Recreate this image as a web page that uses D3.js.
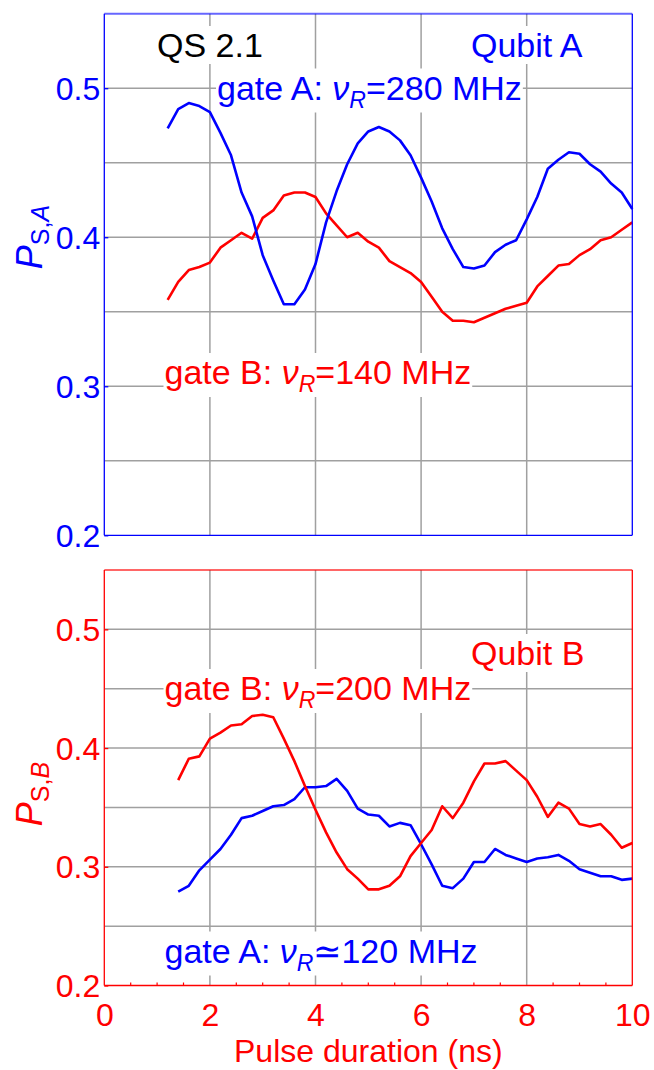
<!DOCTYPE html>
<html>
<head>
<meta charset="utf-8">
<script src="https://cdn.jsdelivr.net/npm/d3@7"></script>
<style>
  html, body { margin: 0; padding: 0; background: #fff; }
  svg { display: block; font-family: "Liberation Sans", Arial, sans-serif; }
</style>
</head>
<body>
<svg id="chart" width="654" height="1070"></svg>
<script>
// Pulse durations (ns)
const timesA = [1.2, 1.4, 1.6, 1.8, 2.0, 2.2, 2.4, 2.6, 2.8, 3.0, 3.2, 3.4, 3.6, 3.8, 4.0,
  4.2, 4.4, 4.6, 4.8, 5.0, 5.2, 5.4, 5.6, 5.8, 6.0, 6.2, 6.4, 6.6, 6.8, 7.0,
  7.2, 7.4, 7.6, 7.8, 8.0, 8.2, 8.4, 8.6, 8.8, 9.0, 9.2, 9.4, 9.6, 9.8, 10.0];
const timesB = [1.4, 1.6, 1.8, 2.0, 2.2, 2.4, 2.6, 2.8, 3.0, 3.2, 3.4, 3.6, 3.8, 4.0,
  4.2, 4.4, 4.6, 4.8, 5.0, 5.2, 5.4, 5.6, 5.8, 6.0, 6.2, 6.4, 6.6, 6.8, 7.0,
  7.2, 7.4, 7.6, 7.8, 8.0, 8.2, 8.4, 8.6, 8.8, 9.0, 9.2, 9.4, 9.6, 9.8, 10.0];

// Qubit A switching probability, gate A pulse (nu_R = 280 MHz)
const qubitA_gateA = [0.473, 0.486, 0.490, 0.488, 0.484, 0.470, 0.455, 0.430, 0.414, 0.388,
  0.371, 0.355, 0.355, 0.365, 0.382, 0.410, 0.431, 0.449, 0.463, 0.471,
  0.474, 0.471, 0.465, 0.455, 0.440, 0.424, 0.406, 0.392, 0.380, 0.379,
  0.381, 0.390, 0.395, 0.398, 0.412, 0.427, 0.446, 0.452, 0.457, 0.456,
  0.449, 0.444, 0.436, 0.430, 0.419];
// Qubit A switching probability, gate B pulse (nu_R = 140 MHz)
const qubitA_gateB = [0.358, 0.370, 0.378, 0.380, 0.383, 0.393, 0.398, 0.403, 0.399, 0.413,
  0.418, 0.428, 0.430, 0.430, 0.427, 0.416, 0.408, 0.400, 0.403, 0.397,
  0.393, 0.384, 0.380, 0.376, 0.370, 0.360, 0.350, 0.344, 0.344, 0.343,
  0.346, 0.349, 0.352, 0.354, 0.356, 0.367, 0.374, 0.381, 0.382, 0.388,
  0.392, 0.398, 0.400, 0.405, 0.410];
// Qubit B switching probability, gate B pulse (nu_R = 200 MHz)
const qubitB_gateB = [0.373, 0.391, 0.393, 0.408, 0.413, 0.419, 0.420, 0.427, 0.428, 0.426,
  0.408, 0.389, 0.368, 0.348, 0.329, 0.312, 0.298, 0.290, 0.281, 0.281,
  0.284, 0.292, 0.309, 0.320, 0.331, 0.351, 0.341, 0.354, 0.372, 0.387,
  0.387, 0.389, 0.381, 0.373, 0.359, 0.342, 0.354, 0.349, 0.336, 0.334,
  0.336, 0.327, 0.316, 0.320];
// Qubit B switching probability, gate A pulse (nu_R ~ 120 MHz)
const qubitB_gateA = [0.279, 0.284, 0.297, 0.306, 0.315, 0.327, 0.341, 0.343, 0.347, 0.351,
  0.352, 0.357, 0.367, 0.367, 0.368, 0.374, 0.364, 0.349, 0.344, 0.343,
  0.334, 0.337, 0.335, 0.319, 0.302, 0.284, 0.282, 0.290, 0.304, 0.304,
  0.315, 0.310, 0.307, 0.304, 0.307, 0.308, 0.310, 0.305, 0.298, 0.295,
  0.292, 0.292, 0.289, 0.290];

// Axis ticks
const xTicks = [0, 2, 4, 6, 8, 10];
const xMinorTicks = [0.5, 1, 1.5, 2.5, 3, 3.5, 4.5, 5, 5.5, 6.5, 7, 7.5, 8.5, 9, 9.5];
const yTicks = [0.2, 0.3, 0.4, 0.5];
const yGrid = [0.25, 0.3, 0.35, 0.4, 0.45, 0.5];
const xGrid = [2, 4, 6, 8];

const BLUE = "#0000ff", RED = "#ff0000", GRID = "#a0a0a0";
const FS_TICK = 32, FS_NOTE = 34, SUB = 23;

const svg = d3.select("#chart");
const x = d3.scaleLinear().domain([0, 10]).range([104.3, 632.3]);

const panels = [
  {
    color: BLUE, top: 13.7, bottom: 535.3, ylab: ["S,", "A"], ylabY: 237, xAxis: false,
    series: [
      { t: timesA, v: qubitA_gateB, color: RED },
      { t: timesA, v: qubitA_gateA, color: BLUE }
    ],
    labels: [
      { x: 157, y: 57, color: "#000", parts: [{ s: "QS 2.1" }] },
      { x: 471, y: 57, color: BLUE, parts: [{ s: "Qubit A" }] },
      { x: 217, y: 99.5, color: BLUE, parts: [{ s: "gate A: " }, { s: "ν", it: true }, { s: "R", it: true, sub: true }, { s: "=280 MHz" }] },
      { x: 164.5, y: 384, color: RED, parts: [{ s: "gate B: " }, { s: "ν", it: true }, { s: "R", it: true, sub: true }, { s: "=140 MHz" }] }
    ]
  },
  {
    color: RED, top: 570, bottom: 985.5, ylab: ["S,", "B"], ylabY: 794, xAxis: true,
    series: [
      { t: timesB, v: qubitB_gateA, color: BLUE },
      { t: timesB, v: qubitB_gateB, color: RED }
    ],
    labels: [
      { x: 471, y: 665, color: RED, parts: [{ s: "Qubit B" }] },
      { x: 164.5, y: 700, color: RED, parts: [{ s: "gate B: " }, { s: "ν", it: true }, { s: "R", it: true, sub: true }, { s: "=200 MHz" }] },
      { x: 164.5, y: 962.5, color: BLUE, parts: [{ s: "gate A: " }, { s: "ν", it: true }, { s: "R", it: true, sub: true }, { s: "≃120 MHz" }] }
    ]
  }
];

function richText(g, parts, size, subSize, subShift) {
  let shifted = 0;
  parts.forEach(p => {
    const ts = g.append("tspan").text(p.s);
    if (p.it) ts.attr("font-style", "italic");
    const want = p.sub ? subShift : 0;
    if (want !== shifted) { ts.attr("dy", want - shifted); shifted = want; }
    ts.attr("font-size", p.sub ? subSize : size);
  });
}

panels.forEach(P => {
  const y = d3.scaleLinear().domain([0.2, 0.55]).range([P.bottom, P.top]);
  const g = svg.append("g");

  // grid
  g.append("g").selectAll("line").data(yGrid).join("line")
    .attr("x1", x(0)).attr("x2", x(10))
    .attr("y1", d => y(d)).attr("y2", d => y(d))
    .attr("stroke", GRID).attr("stroke-width", 1.5);
  g.append("g").selectAll("line").data(xGrid).join("line")
    .attr("x1", d => x(d)).attr("x2", d => x(d))
    .attr("y1", P.top).attr("y2", P.bottom)
    .attr("stroke", GRID).attr("stroke-width", 1.5);

  // in-plot labels on white boxes
  P.labels.forEach(L => {
    const lg = g.append("g");
    const bg = lg.append("rect").attr("fill", "#fff");
    const txt = lg.append("text").attr("x", L.x).attr("y", L.y)
      .attr("fill", L.color).attr("font-size", FS_NOTE);
    richText(txt, L.parts, FS_NOTE, SUB, 8);
    const b = txt.node().getBBox();
    bg.attr("x", b.x - 1).attr("y", b.y).attr("width", b.width + 2).attr("height", b.height);
  });

  // data curves
  const line = d3.line().x(d => x(d[0])).y(d => y(d[1]));
  P.series.forEach(S => {
    g.append("path").datum(S.t.map((t, i) => [t, S.v[i]]))
      .attr("d", line).attr("fill", "none")
      .attr("stroke", S.color).attr("stroke-width", 2.6)
      .attr("stroke-linejoin", "round");
  });

  // frame
  const fr = g.append("g").attr("stroke", P.color).attr("stroke-width", 1.3).attr("fill", "none");
  fr.append("line").attr("x1", x(0)).attr("x2", x(10)).attr("y1", P.top).attr("y2", P.top)
    .attr("stroke-opacity", 0.6).attr("stroke-width", 2);
  fr.append("line").attr("x1", x(0)).attr("x2", x(10)).attr("y1", P.bottom).attr("y2", P.bottom);
  fr.append("line").attr("x1", x(0)).attr("x2", x(0)).attr("y1", P.top).attr("y2", P.bottom);
  fr.append("line").attr("x1", x(10)).attr("x2", x(10)).attr("y1", P.top).attr("y2", P.bottom);

  // y axis: short inward ticks and labels
  const yAxis = d3.axisLeft(y).tickValues(yTicks).tickSizeInner(-4).tickSizeOuter(0)
    .tickPadding(8).tickFormat(d3.format(".1f"));
  const ya = g.append("g").attr("transform", `translate(${x(0)},0)`).call(yAxis);
  ya.select(".domain").remove();
  ya.selectAll(".tick line").attr("stroke", P.color).attr("stroke-width", 1.3);
  ya.selectAll(".tick text").attr("fill", P.color).attr("font-size", FS_TICK)
    .attr("font-family", "Liberation Sans, Arial, sans-serif").attr("dy", "0.35em").attr("x", -4);

  // y title
  const yt = g.append("text")
    .attr("transform", `translate(42,${P.ylabY}) rotate(-90)`)
    .attr("text-anchor", "middle").attr("fill", P.color).attr("font-size", 36);
  richText(yt, [{ s: "P", it: true }, { s: P.ylab[0], sub: true }, { s: P.ylab[1], it: true, sub: true }], 36, 25, 7);

  if (P.xAxis) {
    const xAxis = d3.axisBottom(x).tickValues(xTicks).tickSize(0).tickPadding(10).tickFormat(d3.format("d"));
    const xa = g.append("g").attr("transform", `translate(0,${P.bottom})`).call(xAxis);
    xa.select(".domain").remove();
    xa.selectAll(".tick text").attr("fill", P.color).attr("font-size", FS_TICK)
      .attr("font-family", "Liberation Sans, Arial, sans-serif").attr("dy", null).attr("y", 40.5);
    g.append("g").selectAll("line").data(xMinorTicks).join("line")
      .attr("x1", d => x(d)).attr("x2", d => x(d))
      .attr("y1", P.bottom).attr("y2", P.bottom - 3)
      .attr("stroke", P.color).attr("stroke-width", 1.2);
    g.append("text").attr("x", (x(0) + x(10)) / 2).attr("y", 1062)
      .attr("text-anchor", "middle").attr("fill", P.color).attr("font-size", 32)
      .text("Pulse duration (ns)");
  }
});
</script>
</body>
</html>
